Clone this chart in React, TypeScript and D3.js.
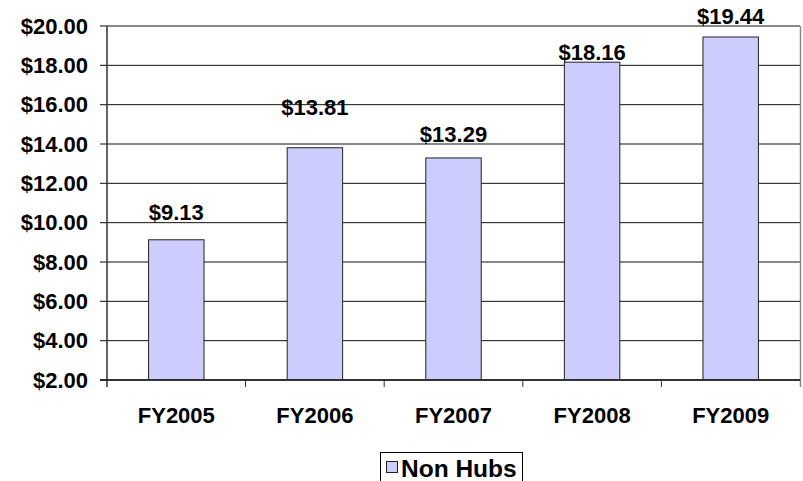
import React from "react";
import * as d3 from "d3";

const categories = ["FY2005", "FY2006", "FY2007", "FY2008", "FY2009"];
const values = [9.13, 13.81, 13.29, 18.16, 19.44];
const valueLabels = ["$9.13", "$13.81", "$13.29", "$18.16", "$19.44"];
const yTicks = [2, 4, 6, 8, 10, 12, 14, 16, 18, 20];
const seriesName = "Non Hubs";

// manual label placements (offset from bar top, px)
const labelDy = [-27, -40, -23, -10, -21];

export default function App() {
  const W = 803, H = 481;
  const left = 107, right = 800, top = 26, bottom = 380;
  const x = d3.scaleBand<string>().domain(categories).range([left, right]).paddingInner(0.6).paddingOuter(0.3);
  const xb = d3.scaleBand<string>().domain(categories).range([left, right]);
  const y = d3.scaleLinear().domain([2, 20]).range([bottom, top]);
  const font = "'Liberation Sans', Arial, sans-serif";
  const fmt = (v: number) => "$" + d3.format(".2f")(v);

  return (
    <svg width={W} height={H} style={{ position: "absolute", left: 0, top: 0, background: "#fff" }} fontFamily={font} fontWeight="bold">
      {/* gridlines */}
      {yTicks.map((t) => (
        <line key={"g" + t} x1={left} x2={right} y1={y(t)} y2={y(t)} stroke="#111" strokeWidth={1} />
      ))}
      {/* right plot border */}
      <line x1={right + 0.5} x2={right + 0.5} y1={top} y2={bottom + 7} stroke="#888" strokeWidth={1.5} />
      {/* bars */}
      {values.map((v, i) => (
        <rect key={"b" + i} x={x(categories[i])!} width={x.bandwidth()} y={y(v)} height={bottom - y(v)} fill="#CCCCFF" stroke="#222" strokeWidth={1} />
      ))}
      {/* axes */}
      <line x1={left} x2={left} y1={top} y2={bottom + 7} stroke="#333" strokeWidth={1.5} />
      <line x1={left - 7} x2={right} y1={bottom} y2={bottom} stroke="#333" strokeWidth={2} />
      {yTicks.map((t) => (
        <g key={"t" + t}>
          <line x1={left - 7} x2={left} y1={y(t)} y2={y(t)} stroke="#333" strokeWidth={1.2} />
          <text x={88} y={y(t)} textAnchor="end" dominantBaseline="central" fontSize={22} fill="#000">
            {fmt(t)}
          </text>
        </g>
      ))}
      {categories.map((c, i) => (
        <g key={"c" + c}>
          {i > 0 && <line x1={xb(c)!} x2={xb(c)!} y1={bottom} y2={bottom + 7} stroke="#333" strokeWidth={1} />}
          <text x={xb(c)! + xb.bandwidth() / 2} y={415} textAnchor="middle" dominantBaseline="central" fontSize={22} fill="#000">
            {c}
          </text>
        </g>
      ))}
      {/* value labels */}
      {values.map((v, i) => (
        <text key={"l" + i} x={x(categories[i])! + x.bandwidth() / 2} y={y(v) + labelDy[i]} textAnchor="middle" dominantBaseline="central" fontSize={22} fill="#000">
          {valueLabels[i]}
        </text>
      ))}
      {/* legend */}
      <rect x={380.5} y={452.5} width={142} height={40} fill="#fff" stroke="#000" strokeWidth={1} />
      <rect x={386.5} y={461.5} width={11} height={11} fill="#CCCCFF" stroke="#222" strokeWidth={1} />
      <text x={401} y={468} dominantBaseline="central" fontSize={24.5} fill="#000">
        {seriesName}
      </text>
    </svg>
  );
}
